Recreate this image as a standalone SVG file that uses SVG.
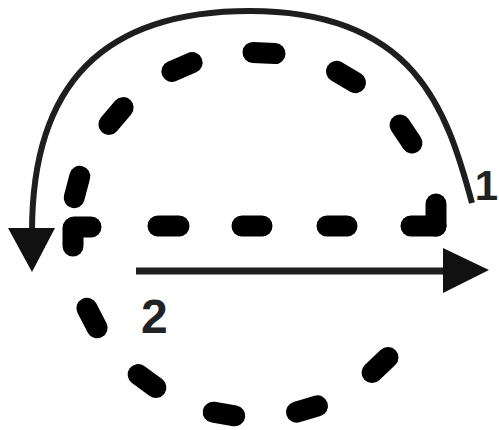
<svg xmlns="http://www.w3.org/2000/svg" width="499" height="430" viewBox="0 0 499 430">
<style>
.d{stroke:#000;stroke-width:21;stroke-linecap:round;fill:none}
.c{stroke:#1e1e1e;stroke-width:6;fill:none}
.h{fill:#111}
.t{font-family:"Liberation Sans",Arial,sans-serif;font-weight:bold;font-size:48px;fill:#222}
</style>
<rect width="499" height="430" fill="#fff"/>
<g id="circle">
<line class="d" x1="400" y1="125" x2="412" y2="143"/>
<line class="d" x1="336.5" y1="71.4" x2="355.5" y2="82.6"/>
<line class="d" x1="253" y1="52.4" x2="275" y2="53.6"/>
<line class="d" x1="171.9" y1="71.4" x2="192.1" y2="62.6"/>
<line class="d" x1="108.9" y1="124.4" x2="123.1" y2="107.6"/>
<line class="d" x1="74.2" y1="197.6" x2="79.8" y2="176.4"/>
<line class="d" x1="97.1" y1="327.8" x2="86.9" y2="308.2"/>
<line class="d" x1="155.9" y1="387.5" x2="138.1" y2="374.5"/>
<line class="d" x1="234.8" y1="415.8" x2="213.2" y2="412.2"/>
<line class="d" x1="317.5" y1="405.9" x2="296.5" y2="412.1"/>
<line class="d" x1="388" y1="357.4" x2="372" y2="372.6"/>
<line class="d" x1="73" y1="228" x2="73" y2="246"/>
<line class="d" x1="436" y1="204" x2="436" y2="226"/>
</g>
<g id="diameter">
<line class="d" x1="74" y1="227" x2="91" y2="227"/>
<line class="d" x1="158" y1="226" x2="179" y2="226"/>
<line class="d" x1="242" y1="226" x2="262" y2="226"/>
<line class="d" x1="327" y1="226" x2="347" y2="226"/>
<line class="d" x1="411" y1="226" x2="436" y2="226"/>
</g>
<g id="connectors">
<path class="c" d="M472 203 C447 110 415 11 250 11 C104 11 32 83 32 232"/>
<polygon class="h" points="8,228 55,228 32,272"/>
<line class="c" x1="136" y1="271" x2="446" y2="271" style="stroke-width:7"/>
<polygon class="h" points="443,248 489,270 443,293"/>
</g>
<g id="labels">
<text class="t" x="498" y="200" text-anchor="end" style="font-size:42px">1</text>
<text class="t" x="141" y="333">2</text>
</g>
</svg>
